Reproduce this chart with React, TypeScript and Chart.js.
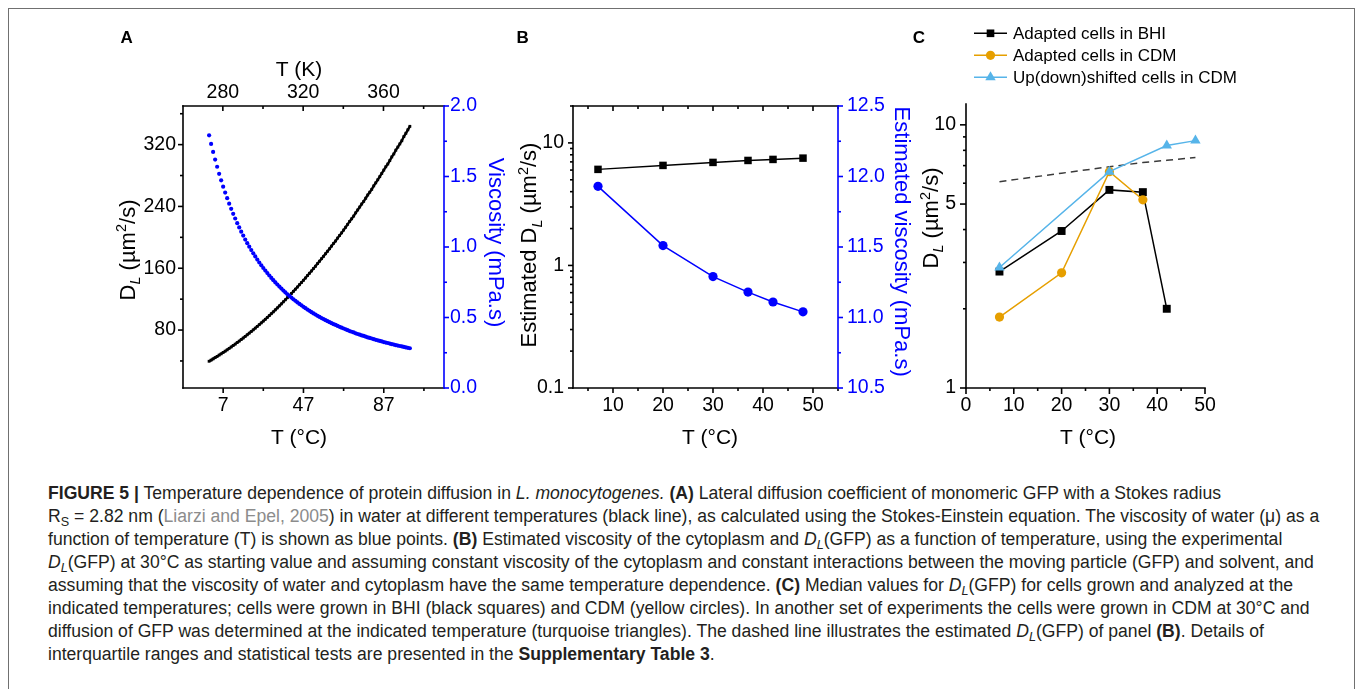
import React, { useEffect, useRef } from 'react';
import { Chart, registerables } from 'chart.js';

Chart.register(...registerables);

const FONT = "'Liberation Sans', Arial, Helvetica, sans-serif";
const BLUE = '#0000ff';
const ORANGE = '#e69f00';
const SKY = '#56b4e9';

// ---------------- Panel A: water, 0..100 °C ----------------
const tempA = [
  0, 1, 2, 3, 4, 5, 6, 7, 8, 9, 10, 11, 12, 13, 14, 15, 16, 17, 18, 19,
  20, 21, 22, 23, 24, 25, 26, 27, 28, 29, 30, 31, 32, 33, 34, 35, 36, 37, 38, 39,
  40, 41, 42, 43, 44, 45, 46, 47, 48, 49, 50, 51, 52, 53, 54, 55, 56, 57, 58, 59,
  60, 61, 62, 63, 64, 65, 66, 67, 68, 69, 70, 71, 72, 73, 74, 75, 76, 77, 78, 79,
  80, 81, 82, 83, 84, 85, 86, 87, 88, 89, 90, 91, 92, 93, 94, 95, 96, 97, 98, 99, 100,
];
const viscWater = [
  1.792, 1.731, 1.674, 1.62, 1.569, 1.519, 1.473, 1.428, 1.386, 1.346,
  1.307, 1.271, 1.235, 1.202, 1.169, 1.139, 1.109, 1.081, 1.053, 1.027,
  1.002, 0.978, 0.955, 0.933, 0.911, 0.89, 0.87, 0.851, 0.833, 0.815,
  0.798, 0.781, 0.765, 0.749, 0.734, 0.719, 0.705, 0.691, 0.678, 0.665,
  0.653, 0.641, 0.629, 0.618, 0.607, 0.596, 0.586, 0.576, 0.566, 0.556,
  0.547, 0.538, 0.529, 0.521, 0.512, 0.504, 0.496, 0.489, 0.481, 0.474,
  0.467, 0.46, 0.453, 0.447, 0.44, 0.434, 0.428, 0.422, 0.416, 0.41,
  0.404, 0.399, 0.394, 0.388, 0.383, 0.378, 0.373, 0.369, 0.364, 0.359,
  0.355, 0.351, 0.346, 0.342, 0.338, 0.334, 0.33, 0.326, 0.322, 0.319,
  0.315, 0.311, 0.308, 0.304, 0.301, 0.298, 0.295, 0.291, 0.288, 0.285,
  0.282,
];
const dlWater = [
  39.6, 41.1, 42.7, 44.3, 45.9, 47.6, 49.2, 51.0, 52.7, 54.4,
  56.3, 58.1, 60.0, 61.8, 63.8, 65.7, 67.7, 69.7, 71.8, 73.9,
  76.0, 78.1, 80.3, 82.5, 84.7, 87.0, 89.3, 91.6, 93.9, 96.3,
  98.7, 101.2, 103.6, 106.2, 108.7, 111.3, 113.9, 116.6, 119.2, 121.9,
  124.6, 127.3, 130.1, 132.9, 135.7, 138.7, 141.5, 144.4, 147.4, 150.5,
  153.5, 156.5, 159.7, 162.6, 166.0, 169.1, 172.4, 175.4, 178.8, 182.0,
  185.3, 188.7, 192.2, 195.3, 199.0, 202.4, 205.8, 209.4, 213.0, 216.8,
  220.6, 224.0, 227.5, 231.7, 235.4, 239.2, 243.1, 246.5, 250.6, 254.8,
  258.4, 262.1, 266.6, 270.5, 274.5, 278.5, 282.7, 287.0, 291.3, 294.9,
  299.4, 304.1, 307.9, 312.8, 316.8, 320.9, 325.0, 330.4, 334.7, 339.2,
  343.7,
];
const ticksA_x = [7, 47, 87];
const minorA_x = [27, 67, 107];
const ticksA_K = [280, 320, 360];
const minorA_K = [300, 340, 380];
const ticksA_y = [80, 160, 240, 320];
const minorA_y = [40, 120, 200, 280, 360];
const ticksA_y2 = [0, 0.5, 1, 1.5, 2];
const minorA_y2 = [0.25, 0.75, 1.25, 1.75];

// ---------------- Panel B: estimates ----------------
const tempB = [7, 20, 30, 37, 42, 48];
const estDL = [6.08, 6.55, 6.93, 7.19, 7.33, 7.51];
const estVisc = [11.93, 11.51, 11.29, 11.18, 11.11, 11.04];
const ticksB_x = [10, 20, 30, 40, 50];
const minorB_x = [5, 15, 25, 35, 45, 55];
const ticksB_y = [0.1, 1, 10];
const minorB_y = [0.2, 0.3, 0.4, 0.5, 0.6, 0.7, 0.8, 0.9, 2, 3, 4, 5, 6, 7, 8, 9, 20];
const ticksB_y2 = [10.5, 11, 11.5, 12, 12.5];
const minorB_y2 = [10.75, 11.25, 11.75, 12.25];

// ---------------- Panel C: measured medians ----------------
const tempBHI = [7, 20, 30, 37, 42];
const dlBHI = [2.77, 3.95, 5.66, 5.55, 2.0];
const tempCDM = [7, 20, 30, 37];
const dlCDM = [1.86, 2.74, 6.64, 5.19];
const tempShift = [7, 30, 42, 48];
const dlShift = [2.87, 6.64, 8.34, 8.71];
const ticksC_x = [0, 10, 20, 30, 40, 50];
const minorC_x = [5, 15, 25, 35, 45];
const ticksC_y = [1, 5, 10];
const minorC_y = [2, 3, 4, 6, 7, 8, 9];
const legendC = ['Adapted cells in BHI', 'Adapted cells in CDM', 'Up(down)shifted cells in CDM'];

// ---------------- helpers ----------------
const pts = (xs: number[], ys: number[]) => xs.map((x, i) => ({ x, y: ys[i] }));

type Seg = { t: string; sub?: boolean; sup?: boolean; italic?: boolean };
type Pos = [string, number];
type TitleSpec = {
  segs: Seg[]; x: Pos; y: Pos; rot?: number; size: number; color?: string; bold?: boolean; align?: 'center' | 'left';
};
type AxisSpec = {
  id: string; side: 'left' | 'right' | 'top' | 'bottom'; color: string;
  major: number[]; minor: number[]; inward?: boolean; majorLen?: number; minorLen?: number; line?: boolean;
};
type LegendSpec = { label: string; color: string; style: 'rect' | 'circle' | 'triangle' };

function drawMarker(ctx: CanvasRenderingContext2D, style: string, x: number, y: number, r: number, color: string) {
  ctx.save();
  ctx.fillStyle = color;
  ctx.beginPath();
  if (style === 'rect') {
    const h = r * Math.SQRT1_2;
    ctx.rect(x - h, y - h, 2 * h, 2 * h);
  } else if (style === 'circle') {
    ctx.arc(x, y, r, 0, Math.PI * 2);
  } else {
    const a0 = -Math.PI / 2;
    for (let k = 0; k < 3; k++) {
      const a = a0 + (k * 2 * Math.PI) / 3;
      const px = x + r * Math.cos(a);
      const py = y + r * Math.sin(a);
      if (k === 0) ctx.moveTo(px, py); else ctx.lineTo(px, py);
    }
    ctx.closePath();
  }
  ctx.fill();
  ctx.restore();
}

function drawRich(ctx: CanvasRenderingContext2D, spec: TitleSpec, cx: number, cy: number) {
  const size = spec.size;
  ctx.save();
  ctx.translate(cx, cy);
  ctx.rotate(spec.rot || 0);
  ctx.fillStyle = spec.color || '#000';
  ctx.textBaseline = 'alphabetic';
  ctx.textAlign = 'left';
  const fontFor = (s: Seg) =>
    `${s.italic ? 'italic ' : ''}${spec.bold ? 'bold ' : ''}${s.sub || s.sup ? size * 0.66 : size}px ${FONT}`;
  let total = 0;
  const widths = spec.segs.map((s) => {
    ctx.font = fontFor(s);
    const w = ctx.measureText(s.t).width;
    total += w;
    return w;
  });
  let x = spec.align === 'left' ? 0 : -total / 2;
  const base = size * 0.36;
  spec.segs.forEach((s, i) => {
    ctx.font = fontFor(s);
    const dy = s.sub ? size * 0.24 : s.sup ? -size * 0.38 : 0;
    ctx.fillText(s.t, x, base + dy);
    x += widths[i];
  });
  ctx.restore();
}

function decor(axes: AxisSpec[], titles: TitleSpec[], legend?: { items: LegendSpec[]; x: Pos; y: Pos; dy: number }) {
  return {
    id: 'decor',
    afterDraw(chart: any) {
      const ctx: CanvasRenderingContext2D = chart.ctx;
      const a = chart.chartArea;
      const res = (p: Pos) => a[p[0]] + p[1];
      for (const ax of axes) {
        const s = chart.scales[ax.id];
        ctx.save();
        ctx.strokeStyle = ax.color;
        ctx.lineWidth = 1.6;
        ctx.lineCap = 'square';
        if (ax.line !== false) {
          ctx.beginPath();
          if (ax.side === 'left') { ctx.moveTo(a.left, a.top); ctx.lineTo(a.left, a.bottom); }
          if (ax.side === 'right') { ctx.moveTo(a.right, a.top); ctx.lineTo(a.right, a.bottom); }
          if (ax.side === 'top') { ctx.moveTo(a.left, a.top); ctx.lineTo(a.right, a.top); }
          if (ax.side === 'bottom') { ctx.moveTo(a.left, a.bottom); ctx.lineTo(a.right, a.bottom); }
          ctx.stroke();
        }
        ctx.lineCap = 'butt';
        const draw = (vals: number[], len: number) => {
          for (const v of vals) {
            const p = s.getPixelForValue(v);
            const horiz = ax.side === 'top' || ax.side === 'bottom';
            if (horiz && (p < a.left - 0.5 || p > a.right + 0.5)) continue;
            if (!horiz && (p < a.top - 0.5 || p > a.bottom + 0.5)) continue;
            const sign = ax.inward ? -1 : 1;
            ctx.beginPath();
            if (ax.side === 'left') { ctx.moveTo(a.left, p); ctx.lineTo(a.left - sign * len, p); }
            if (ax.side === 'right') { ctx.moveTo(a.right, p); ctx.lineTo(a.right + sign * len, p); }
            if (ax.side === 'top') { ctx.moveTo(p, a.top); ctx.lineTo(p, a.top - sign * len); }
            if (ax.side === 'bottom') { ctx.moveTo(p, a.bottom); ctx.lineTo(p, a.bottom + sign * len); }
            ctx.stroke();
          }
        };
        draw(ax.major, ax.majorLen ?? 5);
        draw(ax.minor, ax.minorLen ?? 3);
        ctx.restore();
      }
      for (const t of titles) drawRich(ctx, t, res(t.x), res(t.y));
      if (legend) {
        const lx = res(legend.x);
        let ly = res(legend.y);
        for (const it of legend.items) {
          ctx.save();
          ctx.strokeStyle = it.color;
          ctx.lineWidth = 1.5;
          ctx.beginPath();
          ctx.moveTo(lx, ly);
          ctx.lineTo(lx + 33, ly);
          ctx.stroke();
          ctx.restore();
          drawMarker(ctx, it.style, lx + 16.5, ly, it.style === 'triangle' ? 6 : it.style === 'rect' ? 5.4 : 4.6, it.color);
          drawRich(ctx, { segs: [{ t: it.label }], x: ['left', 0], y: ['top', 0], size: 17, align: 'left' }, lx + 39, ly);
          ly += legend.dy;
        }
      }
    },
  };
}

function axis(o: {
  position: string; type?: string; min: number; max: number; ticks: number[];
  fmt: (v: number) => string; size: number; pad: number; color?: string; show?: boolean;
}) {
  const horizontal = o.position === 'top' || o.position === 'bottom';
  return {
    type: o.type || 'linear',
    position: o.position,
    min: o.min,
    max: o.max,
    bounds: 'data',
    afterBuildTicks: (s: any) => { s.ticks = o.ticks.map((v) => ({ value: v })); },
    afterFit: (s: any) => { if (horizontal) s.height = o.size; else s.width = o.size; },
    grid: { display: false, drawTicks: false },
    border: { display: false },
    ticks: {
      display: o.show !== false,
      padding: o.pad,
      color: o.color || '#000',
      font: { family: FONT, size: 19.5 },
      autoSkip: false,
      maxRotation: 0,
      minRotation: 0,
      callback: (v: any) => o.fmt(Number(v)),
    },
  };
}

const baseOptions = {
  responsive: false,
  animation: false,
  devicePixelRatio: 1,
  events: [],
  plugins: { legend: { display: false }, tooltip: { enabled: false } },
};

const DL_SEGS = (prefix: string): Seg[] => [
  { t: prefix + 'D' }, { t: 'L', sub: true, italic: true }, { t: ' (µm' }, { t: '2', sup: true }, { t: '/s)' },
];

function configA(): any {
  return {
    type: 'scatter',
    data: {
      datasets: [
        {
          data: pts(tempA, viscWater), yAxisID: 'y2', xAxisID: 'x', showLine: false,
          pointRadius: 2.1, pointBackgroundColor: BLUE, pointBorderWidth: 0,
        },
        {
          data: pts(tempA, dlWater), yAxisID: 'y', xAxisID: 'x', showLine: true,
          borderColor: '#000', borderWidth: 2.4, pointStyle: 'rect', pointRadius: 2,
          pointBackgroundColor: '#000', pointBorderWidth: 0,
        },
      ],
    },
    options: {
      ...baseOptions,
      layout: { padding: 0 },
      scales: {
        x: axis({ position: 'bottom', min: -13, max: 117, ticks: ticksA_x, fmt: (v) => String(v), size: 72, pad: 6 }),
        xK: axis({ position: 'top', min: 260.15, max: 390.15, ticks: ticksA_K, fmt: (v) => String(v), size: 86, pad: 2 }),
        y: axis({ position: 'left', min: 5, max: 370, ticks: ticksA_y, fmt: (v) => String(v), size: 83, pad: 7 }),
        y2: axis({ position: 'right', min: 0, max: 2, ticks: ticksA_y2, fmt: (v) => v.toFixed(1), size: 76, pad: 6, color: BLUE }),
      },
    },
    plugins: [
      decor(
        [
          { id: 'x', side: 'bottom', color: '#000', major: ticksA_x, minor: minorA_x },
          { id: 'xK', side: 'top', color: '#000', major: ticksA_K, minor: minorA_K, inward: true },
          { id: 'y', side: 'left', color: '#000', major: ticksA_y, minor: minorA_y },
          { id: 'y2', side: 'right', color: BLUE, major: ticksA_y2, minor: minorA_y2 },
        ],
        [
          { segs: [{ t: 'A' }], x: ['left', -56.3], y: ['top', -69.3], size: 17, bold: true },
          { segs: [{ t: 'T (K)' }], x: ['left', 116], y: ['top', -37.7], size: 21 },
          { segs: [{ t: 'T (°C)' }], x: ['left', 116], y: ['bottom', 48.7], size: 21 },
          { segs: DL_SEGS(''), x: ['left', -56.3], y: ['top', 144], size: 22, rot: -Math.PI / 2 },
          { segs: [{ t: 'Viscosity (mPa.s)' }], x: ['right', 52.7], y: ['top', 136.5], size: 22, rot: Math.PI / 2, color: BLUE },
        ],
      ),
    ],
  };
}

function configB(): any {
  return {
    type: 'scatter',
    data: {
      datasets: [
        {
          data: pts(tempB, estDL), yAxisID: 'y', xAxisID: 'x', showLine: true,
          borderColor: '#000', borderWidth: 1.5, pointStyle: 'rect', pointRadius: 5.3,
          pointBackgroundColor: '#000', pointBorderWidth: 0,
        },
        {
          data: pts(tempB, estVisc), yAxisID: 'y2', xAxisID: 'x', showLine: true,
          borderColor: BLUE, borderWidth: 1.5, pointStyle: 'circle', pointRadius: 4.6,
          pointBackgroundColor: BLUE, pointBorderWidth: 0,
        },
      ],
    },
    options: {
      ...baseOptions,
      layout: { padding: { top: 86 } },
      scales: {
        x: axis({ position: 'bottom', min: 2, max: 55, ticks: ticksB_x, fmt: (v) => String(v), size: 72, pad: 6 }),
        y: axis({ position: 'left', type: 'logarithmic', min: 0.1, max: 20, ticks: ticksB_y, fmt: (v) => String(v), size: 73, pad: 9 }),
        y2: axis({ position: 'right', min: 10.5, max: 12.5, ticks: ticksB_y2, fmt: (v) => v.toFixed(1), size: 92, pad: 9, color: BLUE }),
      },
    },
    plugins: [
      decor(
        [
          { id: 'x', side: 'bottom', color: '#000', major: ticksB_x, minor: minorB_x },
          { id: 'x', side: 'top', color: '#000', major: ticksB_x, minor: minorB_x, inward: true },
          { id: 'y', side: 'left', color: '#000', major: ticksB_y, minor: minorB_y },
          { id: 'y2', side: 'right', color: BLUE, major: ticksB_y2, minor: minorB_y2 },
        ],
        [
          { segs: [{ t: 'B' }], x: ['left', -50.3], y: ['top', -69.3], size: 17, bold: true },
          { segs: [{ t: 'T (°C)' }], x: ['left', 137], y: ['bottom', 48.7], size: 21 },
          { segs: DL_SEGS('Estimated '), x: ['left', -44.7], y: ['top', 139], size: 22, rot: -Math.PI / 2 },
          { segs: [{ t: 'Estimated viscosity (mPa.s)' }], x: ['right', 65.3], y: ['top', 135.7], size: 22, rot: Math.PI / 2, color: BLUE },
        ],
      ),
    ],
  };
}

function configC(): any {
  return {
    type: 'scatter',
    data: {
      datasets: [
        {
          data: pts(tempShift, dlShift), showLine: true, borderColor: SKY, borderWidth: 1.5,
          pointStyle: 'triangle', pointRadius: 6, pointBackgroundColor: SKY, pointBorderWidth: 0,
        },
        {
          data: pts(tempCDM, dlCDM), showLine: true, borderColor: ORANGE, borderWidth: 1.5,
          pointStyle: 'circle', pointRadius: 4.6, pointBackgroundColor: ORANGE, pointBorderWidth: 0,
        },
        {
          data: pts(tempBHI, dlBHI), showLine: true, borderColor: '#000', borderWidth: 1.5,
          pointStyle: 'rect', pointRadius: 5.6, pointBackgroundColor: '#000', pointBorderWidth: 0,
        },
        {
          data: pts(tempB, estDL), showLine: true, borderColor: '#3a3a3a', borderWidth: 1.5,
          borderDash: [7, 5], pointRadius: 0,
        },
      ],
    },
    options: {
      ...baseOptions,
      layout: { padding: { top: 94, right: 53 } },
      scales: {
        x: axis({ position: 'bottom', min: 0, max: 50, ticks: ticksC_x, fmt: (v) => String(v), size: 72, pad: 6 }),
        y: axis({ position: 'left', type: 'logarithmic', min: 1, max: 12, ticks: ticksC_y, fmt: (v) => String(v), size: 66, pad: 10 }),
      },
    },
    plugins: [
      decor(
        [
          { id: 'x', side: 'bottom', color: '#000', major: ticksC_x, minor: minorC_x, majorLen: 6 },
          { id: 'y', side: 'left', color: '#000', major: ticksC_y, minor: minorC_y, majorLen: 6 },
        ],
        [
          { segs: [{ t: 'C' }], x: ['left', -47], y: ['top', -67.3], size: 17, bold: true },
          { segs: [{ t: 'T (°C)' }], x: ['left', 122], y: ['bottom', 48.7], size: 21 },
          { segs: DL_SEGS(''), x: ['left', -36], y: ['top', 114], size: 22, rot: -Math.PI / 2 },
        ],
        {
          items: [
            { label: legendC[0], color: '#000', style: 'rect' },
            { label: legendC[1], color: ORANGE, style: 'circle' },
            { label: legendC[2], color: SKY, style: 'triangle' },
          ],
          x: ['left', 8],
          y: ['top', -70.7],
          dy: 22,
        },
      ),
    ],
  };
}

function ChartCanvas(props: { left: number; top: number; width: number; height: number; build: () => any }) {
  const ref = useRef<HTMLCanvasElement | null>(null);
  useEffect(() => {
    if (!ref.current) return;
    const chart = new Chart(ref.current, props.build());
    return () => chart.destroy();
  }, []);
  return (
    <canvas
      ref={ref}
      width={props.width}
      height={props.height}
      style={{ position: 'absolute', left: props.left, top: props.top, width: props.width, height: props.height }}
    />
  );
}

const subStyle: React.CSSProperties = { fontSize: '0.72em', position: 'relative', top: '0.32em', lineHeight: 0 };
const grayStyle: React.CSSProperties = { color: '#8c8c8c' };
const DL = () => (
  <i>
    D<span style={subStyle}>L</span>
  </i>
);

export default function App() {
  return (
    <div style={{ position: 'absolute', left: 0, top: 0, width: 1358, height: 689, overflow: 'hidden', background: '#fff' }}>
      <div
        style={{
          position: 'absolute', left: 8, top: 8, width: 1347, height: 681, boxSizing: 'border-box',
          borderTop: '1.6px solid #707070', borderLeft: '1.6px solid #707070', borderRight: '1.6px solid #707070',
        }}
      />
      <ChartCanvas left={100} top={20} width={420} height={440} build={configA} />
      <ChartCanvas left={500} top={20} width={430} height={440} build={configB} />
      <ChartCanvas left={900} top={10} width={358} height={450} build={configC} />
      <div
        style={{
          position: 'absolute', left: 48, top: 482, fontFamily: FONT, fontSize: 17.6, lineHeight: '23px',
          whiteSpace: 'nowrap', color: '#231f20',
        }}
      >
        <div>
          <b>FIGURE 5 |</b> Temperature dependence of protein diffusion in <i>L. monocytogenes.</i> <b>(A)</b> Lateral
          diffusion coefficient of monomeric GFP with a Stokes radius
        </div>
        <div>
          R<span style={subStyle}>S</span> = 2.82 nm (<span style={grayStyle}>Liarzi and Epel, 2005</span>) in water at
          different temperatures (black line), as calculated using the Stokes-Einstein equation. The viscosity of water (μ) as a
        </div>
        <div>
          function of temperature (T) is shown as blue points. <b>(B)</b> Estimated viscosity of the cytoplasm and <DL />
          (GFP) as a function of temperature, using the experimental
        </div>
        <div>
          <DL />
          (GFP) at 30°C as starting value and assuming constant viscosity of the cytoplasm and constant interactions between
          the moving particle (GFP) and solvent, and
        </div>
        <div>
          assuming that the viscosity of water and cytoplasm have the same temperature dependence. <b>(C)</b> Median values
          for <DL />
          (GFP) for cells grown and analyzed at the
        </div>
        <div>
          indicated temperatures; cells were grown in BHI (black squares) and CDM (yellow circles). In another set of
          experiments the cells were grown in CDM at 30°C and
        </div>
        <div>
          diffusion of GFP was determined at the indicated temperature (turquoise triangles). The dashed line illustrates the
          estimated <DL />
          (GFP) of panel <b>(B)</b>. Details of
        </div>
        <div>
          interquartile ranges and statistical tests are presented in the <b>Supplementary Table 3</b>.
        </div>
      </div>
    </div>
  );
}
